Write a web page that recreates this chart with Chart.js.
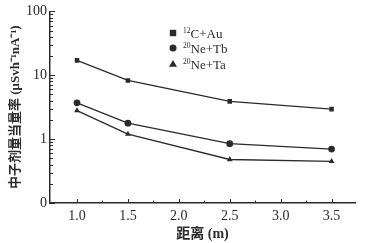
<!DOCTYPE html>
<html>
<head>
<meta charset="utf-8">
<script src="https://cdn.jsdelivr.net/npm/chart.js@4"></script>
<style>
  html, body { margin: 0; padding: 0; background: #fff; }
  #wrap { width: 366px; height: 243px; }
</style>
</head>
<body>
<div id="wrap"><canvas id="c" width="366" height="243"></canvas></div>
<script>
// distances (m)
const distances = [1.0, 1.5, 2.5, 3.5];
// dose rate values, log scale
const cAu = [17.1, 8.3, 3.9, 2.95];
const neTb = [3.7, 1.78, 0.85, 0.70];
const neTa = [2.8, 1.2, 0.48, 0.45];
// legend parts: mass number, rest
const seriesMass = ['12', '20', '20'];
const seriesName = ['C+Au', 'Ne+Tb', 'Ne+Ta'];
const xTicks = [1.0, 1.5, 2.0, 2.5, 3.0, 3.5];
const yLabels = { 100: '100', 10: '10', 1: '1', 0.1: '0' };

const ink = '#2b2b2b';
const serif = "'Liberation Serif', 'DejaVu Serif', serif";
const titleFont = "'Liberation Serif', 'Noto Sans CJK SC', serif";

function toPts(ys) {
  return distances.map((x, i) => ({ x: x, y: ys[i] }));
}

function mkSet(name, ys, style) {
  return {
    label: name,
    data: toPts(ys),
    borderColor: ink,
    backgroundColor: ink,
    borderWidth: 1.3,
    pointStyle: style,
    pointRadius: style === 'rect' ? 3.2 : 3.4,
    pointBorderWidth: 0,
    tension: 0
  };
}

// inward ticks and the legend inside the plot
const decor = {
  id: 'decor',
  afterDraw(chart) {
    const ctx = chart.ctx;
    const xs = chart.scales.x, ys = chart.scales.y;
    const area = chart.chartArea;
    ctx.save();
    ctx.strokeStyle = ink;
    ctx.lineWidth = 1;
    // x ticks point up
    for (let v = 1.0; v <= 3.51; v += 0.25) {
      const px = Math.round(xs.getPixelForValue(v)) + 0.5;
      const major = Math.abs(v * 2 - Math.round(v * 2)) < 1e-6;
      ctx.beginPath();
      ctx.moveTo(px, area.bottom);
      ctx.lineTo(px, area.bottom - (major ? 4 : 2.5));
      ctx.stroke();
    }
    // y ticks point right
    for (let d = 0.1; d < 100; d *= 10) {
      for (let k = 1; k <= 10; k++) {
        const v = d * k;
        const py = Math.round(ys.getPixelForValue(v)) + 0.5;
        const major = (k === 1 || k === 10);
        ctx.beginPath();
        ctx.moveTo(area.left, py);
        ctx.lineTo(area.left + (major ? 5 : 3), py);
        ctx.stroke();
      }
    }
    // legend
    const lx = 173, rowsY = [33, 48, 64];
    chart.data.datasets.forEach((ds, i) => {
      const y = rowsY[i];
      ctx.fillStyle = ink;
      ctx.beginPath();
      if (ds.pointStyle === 'rect') {
        ctx.rect(lx - 3.2, y - 3.2, 6.4, 6.4);
      } else if (ds.pointStyle === 'circle') {
        ctx.arc(lx, y, 3.5, 0, Math.PI * 2);
      } else {
        ctx.moveTo(lx, y - 4);
        ctx.lineTo(lx + 4, y + 2.8);
        ctx.lineTo(lx - 4, y + 2.8);
        ctx.closePath();
      }
      ctx.fill();
      ctx.textBaseline = 'alphabetic';
      ctx.textAlign = 'left';
      ctx.font = '7.5px ' + serif;
      ctx.fillText(seriesMass[i], lx + 10, y - 0.5);
      const w = ctx.measureText(seriesMass[i]).width;
      ctx.font = '13px ' + serif;
      ctx.fillText(seriesName[i], lx + 10 + w, y + 4.5);
    });
    ctx.restore();
  }
};

new Chart(document.getElementById('c'), {
  type: 'line',
  data: {
    datasets: [
      mkSet('12C+Au', cAu, 'rect'),
      mkSet('20Ne+Tb', neTb, 'circle'),
      mkSet('20Ne+Ta', neTa, 'triangle')
    ]
  },
  options: {
    responsive: false,
    animation: false,
    layout: { padding: { top: 10, right: 11, left: 8, bottom: 0 } },
    plugins: {
      legend: { display: false },
      tooltip: { enabled: false }
    },
    scales: {
      x: {
        type: 'linear',
        min: 0.735,
        max: 3.73,
        afterBuildTicks(scale) {
          scale.ticks = xTicks.map(v => ({ value: v }));
        },
        afterFit(scale) { scale.height = 40; },
        grid: { display: false, drawTicks: false },
        border: { display: true, color: ink, width: 1.5 },
        ticks: {
          color: ink,
          font: { family: serif, size: 14 },
          padding: 5,
          maxRotation: 0,
          callback: v => v.toFixed(1)
        },
        title: {
          display: true,
          text: '距离 (m)',
          color: ink,
          font: { family: titleFont, size: 14, weight: 'bold' },
          padding: { top: 1, bottom: 0 }
        }
      },
      y: {
        type: 'logarithmic',
        min: 0.1,
        max: 100,
        afterFit(scale) { scale.width = 42; },
        grid: { display: false, drawTicks: false },
        border: { display: true, color: ink, width: 1.5 },
        ticks: {
          color: ink,
          font: { family: serif, size: 14 },
          padding: 3,
          autoSkip: false,
          callback: v => (yLabels[v] !== undefined ? yLabels[v] : '')
        },
        title: {
          display: true,
          text: '中子剂量当量率 (μSvh⁻¹nA⁻¹)',
          color: ink,
          font: { family: titleFont, size: 13, weight: 'bold' },
          padding: { top: 0, bottom: 4 }
        }
      }
    }
  },
  plugins: [decor]
});
</script>
</body>
</html>
